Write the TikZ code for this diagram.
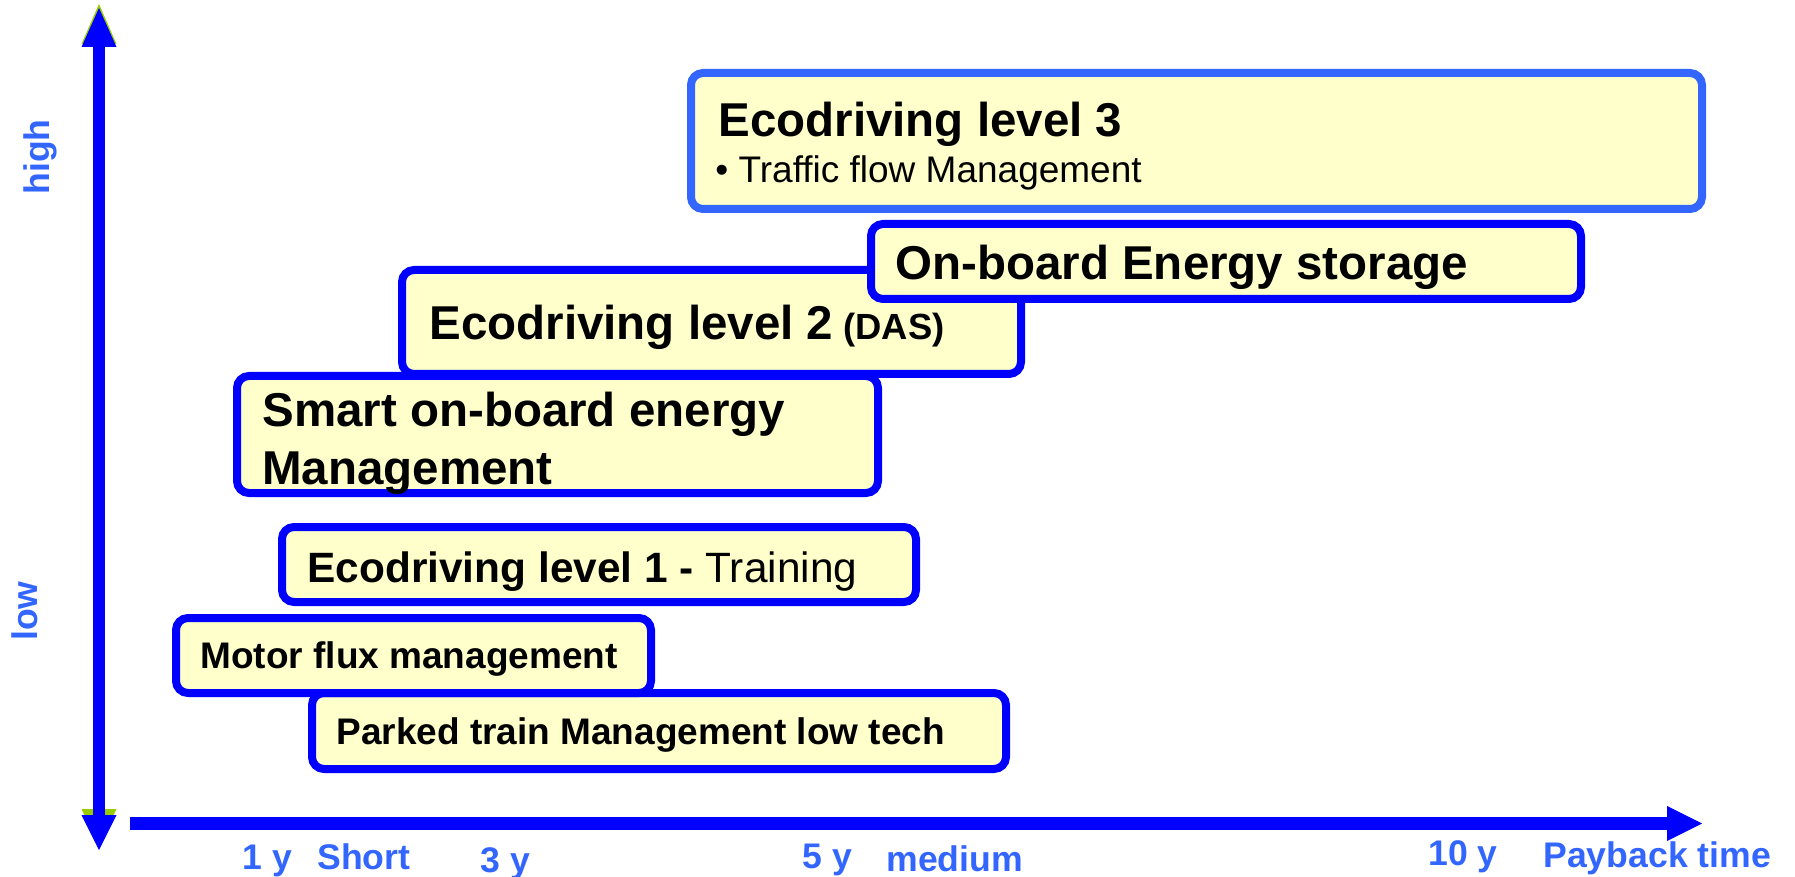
\documentclass[tikz,border=0pt]{standalone}
\usepackage{fontspec}
\setmainfont{Liberation Sans}
\definecolor{axisblue}{HTML}{0000FF}
\definecolor{lblue}{HTML}{3366FF}
\definecolor{boxfill}{HTML}{FFFFCC}
\definecolor{arrowgreen}{HTML}{99CC00}
\newcommand{\fsz}[1]{\fontsize{#1}{#1}\selectfont}
\begin{document}
\begin{tikzpicture}[x=0.5pt,y=-0.5pt,
  box/.style={draw=axisblue, fill=boxfill, line width=4pt, rounded corners=6pt},
  topbox/.style={box, draw=lblue},
  txt/.style={anchor=base west, inner sep=0pt, text=black},
  big/.style={txt, font=\fsz{23.75}\bfseries},
  mid/.style={txt, font=\fsz{18.5}\bfseries},
  axlab/.style={anchor=base west, inner sep=0pt, text=lblue, font=\fsz{17.8}\bfseries},
  head/.style={fill=axisblue, draw=none},
  ghead/.style={fill=arrowgreen, draw=none},
]
\useasboundingbox (0,0) rectangle (1795,877);

% ---------- axes ----------
\coordinate (ytop) at (99,47);
\coordinate (ybot) at (99,815);
\coordinate (xleft) at (130,823.5);
\coordinate (xright) at (1667,823.5);

\fill[ghead] (99,4) -- (81.5,44) -- (116.5,44) -- cycle;
\fill[ghead] (99,844) -- (81.5,809) -- (116.5,809) -- cycle;
\draw[axisblue, line width=6pt] (ytop) -- (ybot);
\fill[head] (99,8) -- (81.5,47) -- (116.5,47) -- cycle;
\fill[head] (99,850) -- (81.5,815) -- (116.5,815) -- cycle;
\draw[axisblue, line width=6.5pt] (xleft) -- (xright);
\fill[head] (1702,823.5) -- (1667,806) -- (1667,841) -- cycle;

% axis labels
\node[axlab, rotate=90, anchor=center] (high) at (40,157) {high};
\node[axlab, rotate=90, anchor=center] (low) at (25,611) {low};
\node[axlab] (t1) at (242,869) {1 y};
\node[axlab] (tshort) at (317,869) {Short};
\node[axlab] (t3) at (480,872) {3 y};
\node[axlab] (t5) at (802,868) {5 y};
\node[axlab] (tmed) at (886,871) {medium};
\node[axlab] (t10) at (1428,865) {10 y};
\node[axlab] (tpay) at (1543,867) {Payback time};

% ---------- boxes ----------
\draw[topbox] (691,73) rectangle (1702,209);
\node[big] (l3) at (718,137) {Ecodriving level 3};
\node[txt, font=\fsz{18.5}] (l3b) at (715,183) {• Traffic flow Management};

\draw[box] (402,270) rectangle (1021,374);
\node[big] (l2) at (429,340) {Ecodriving level 2{\fsz{18.2}\ (DAS)}};

\draw[box] (871,224) rectangle (1581,299);
\node[big] (ob) at (895,280) {On-board Energy storage};

\draw[box] (237,376) rectangle (878,493);
\node[big] (sm1) at (262,427) {Smart on-board energy};
\node[big] (sm2) at (262,484) {Management};

\draw[box] (282,527) rectangle (916,602);
\node[txt, font=\fsz{21.2}] (l1) at (307,582) {\textbf{Ecodriving level 1 -} Training};

\draw[box] (312,693) rectangle (1006,769);
\node[mid] (pk) at (336,744) {Parked train Management low tech};

\draw[box] (176,618) rectangle (651,693);
\node[mid] (mf) at (200,668) {Motor flux management};
\end{tikzpicture}
\end{document}
